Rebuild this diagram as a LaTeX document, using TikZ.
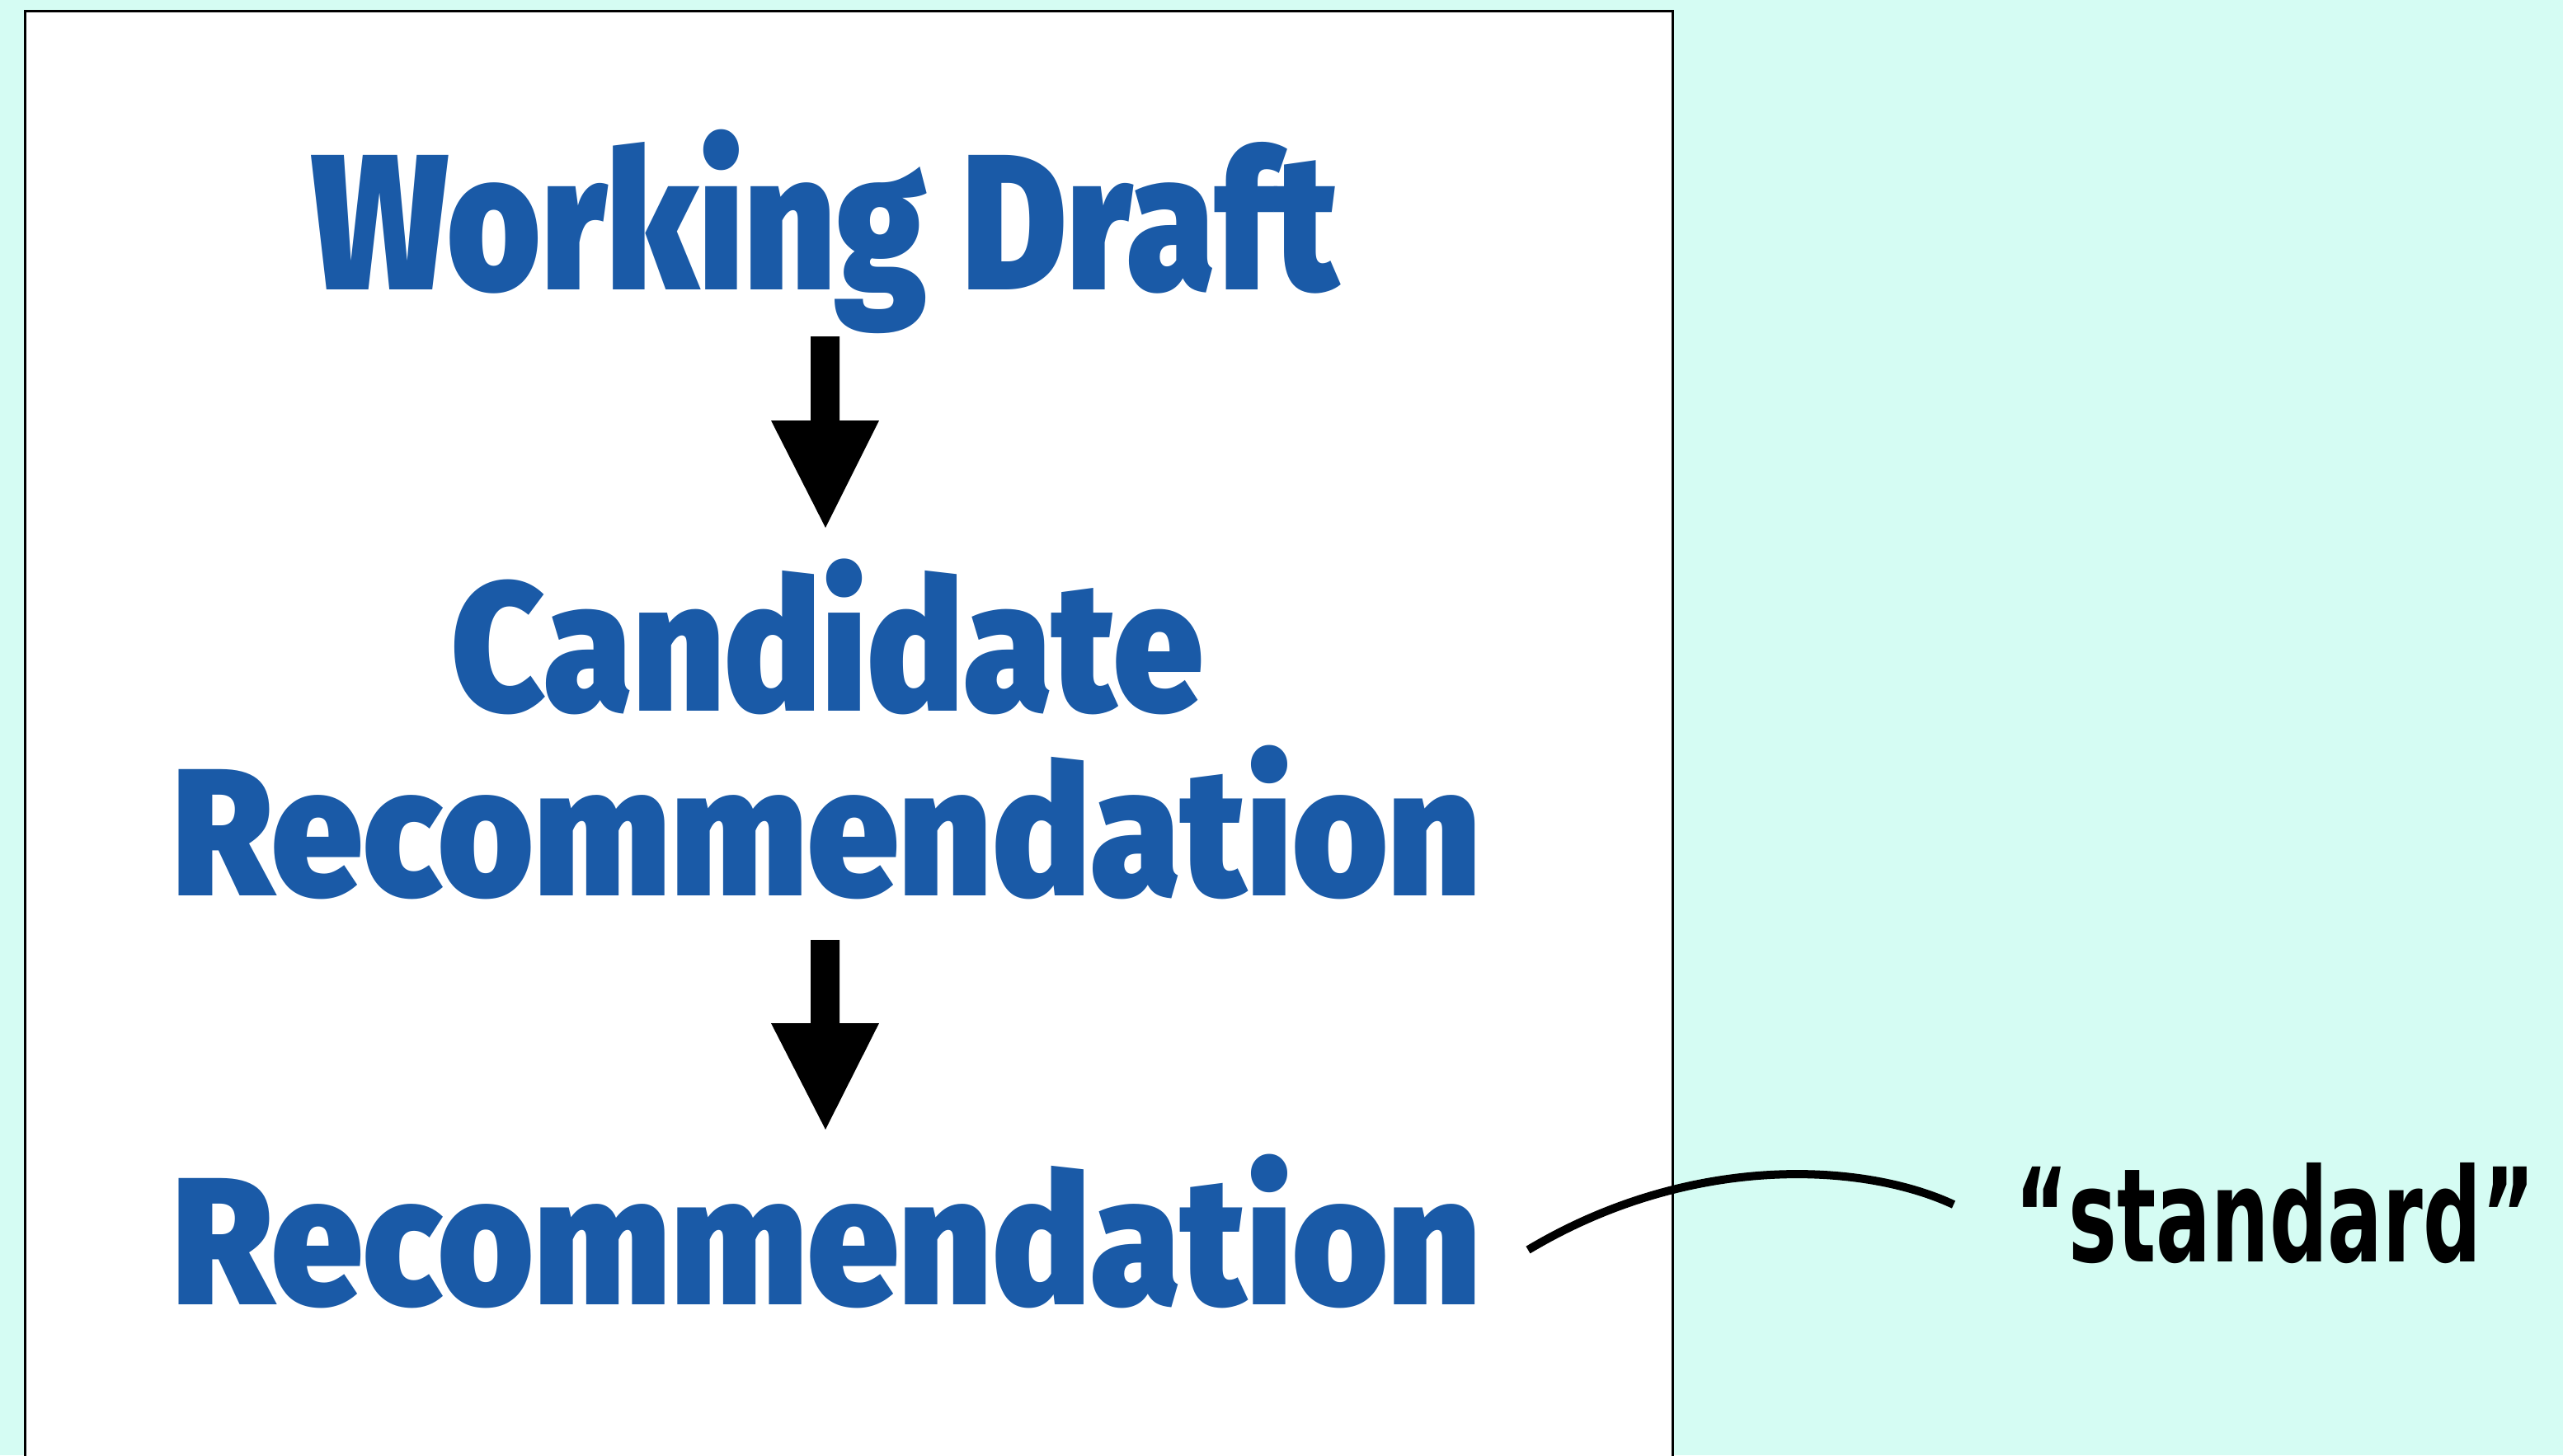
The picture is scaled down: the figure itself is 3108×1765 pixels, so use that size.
\documentclass[tikz,border=0pt]{standalone}
\usepackage{fontspec}
\setmainfont{Fira Sans}
\newfontfamily\heavy{Fira Sans Black}
\newfontfamily\stdfont{DejaVu Sans}
\definecolor{mint}{RGB}{213,252,243}
\definecolor{wblue}{RGB}{26,90,167}
\newcommand{\fitword}[4]{\resizebox{#1}{#2}{\smash{#3}\vphantom{#4}}}
\tikzset{
  stage/.style={anchor=base west, inner sep=0pt, text=wblue, font=\heavy},
  bigarrow/.style={fill=black},
  note/.style={anchor=base west, inner sep=0pt, font=\stdfont\bfseries},
  pointer/.style={line width=0.1cm}
}
\begin{document}
\begin{tikzpicture}[x=0.01cm,y=-0.01cm]
\useasboundingbox (0,0) rectangle (3108,1765);
\clip (0,0) rectangle (3108,1765);
\fill[mint] (0,0) rectangle (3108,1765);
\draw[line width=0.03cm, fill=white] (30.5,13.5) rectangle (2028,1800);
\node[stage] (wd) at (377,351) {\fitword{12.44cm}{1.63cm}{Working Draft}{D}};
\node[stage] (cand) at (547,862) {\fitword{9.10cm}{1.70cm}{Candidate}{d}};
\node[stage] (rec1) at (208,1086) {\fitword{15.86cm}{1.68cm}{Recommendation}{d}};
\node[stage] (rec2) at (208,1582) {\fitword{15.86cm}{1.68cm}{Recommendation}{d}};
\coordinate (a1) at (1000.5,408);
\coordinate (a2) at (1000.5,1140);
\fill[bigarrow] (a1) +(-17.5,0) -- +(17.5,0) -- +(17.5,102) -- +(65.5,102) -- +(0.5,232) -- +(-65.5,102) -- +(-17.5,102) -- cycle;
\fill[bigarrow] (a2) +(-17.5,0) -- +(17.5,0) -- +(17.5,101) -- +(65.5,101) -- +(0.5,230) -- +(-65.5,101) -- +(-17.5,101) -- cycle;
\coordinate (p0) at (1853,1516);
\coordinate (p1) at (2369,1461);
\draw[pointer] (p0) .. controls (2050,1398) and (2260,1410) .. (p1);
\node[note] (std) at (2443,1530) {\resizebox{6.30cm}{1.20cm}{“standard”}};
\end{tikzpicture}
\end{document}
